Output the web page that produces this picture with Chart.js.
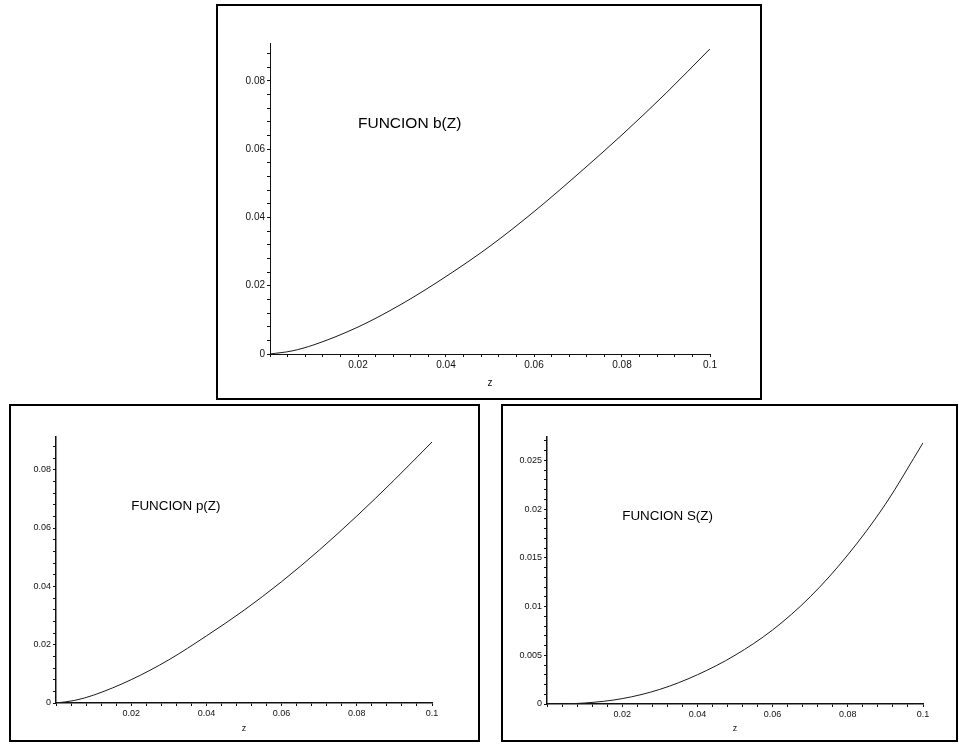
<!DOCTYPE html>
<html>
<head>
<meta charset="utf-8">
<title>FUNCION b(Z), p(Z), S(Z)</title>
<script src="https://cdn.jsdelivr.net/npm/chart.js@4.4.1/dist/chart.umd.min.js"></script>
<style>
  body { margin: 0; background: #fff; width: 959px; height: 744px; position: relative; overflow: hidden; }
  .box { position: absolute; border: 2px solid #000; box-sizing: border-box; background: #fff; }
  .box canvas { display: block; }
</style>
</head>
<body>
<div class="box" style="left:216px;top:4px;width:546px;height:396px;"><canvas id="chartB" width="542" height="392"></canvas></div>
<div class="box" style="left:9px;top:404px;width:471px;height:338px;"><canvas id="chartP" width="467" height="334"></canvas></div>
<div class="box" style="left:501px;top:404px;width:457px;height:338px;"><canvas id="chartS" width="453" height="334"></canvas></div>

<script>
// values (z on the x axis)
var zValues = [0, 0.005, 0.01, 0.02, 0.03, 0.04, 0.05, 0.06, 0.07, 0.08, 0.09, 0.1];
var bValues = [0, 0.0009, 0.0027, 0.0079, 0.0147, 0.0227, 0.0316, 0.0417, 0.0527, 0.0642, 0.0764, 0.0894];
var pValues = [0, 0.0009, 0.0027, 0.0080, 0.0148, 0.0230, 0.0318, 0.0416, 0.0524, 0.0641, 0.0765, 0.0895];
var sValues = [0, 0.00002, 0.0001, 0.00055, 0.0015, 0.0030, 0.0050, 0.0076, 0.0110, 0.0153, 0.0205, 0.0268];

// labelled ticks
var xTickLabels = [0.02, 0.04, 0.06, 0.08, 0.1];
var bpTickLabels = [0, 0.02, 0.04, 0.06, 0.08];
var sTickLabels = [0, 0.005, 0.01, 0.015, 0.02, 0.025];

var FONT = '"Liberation Sans", Arial, Helvetica, sans-serif';

function toPoints(xs, ys) {
  var pts = [];
  for (var i in xs) {
    pts.push({x: xs[i], y: ys[i]});
  }
  return pts;
}

function inList(v, list) {
  for (var i = 0; i < list.length; i++) {
    if (Math.abs(v - list[i]) < 1e-9) return true;
  }
  return false;
}

function fmt(v) {
  return String(parseFloat(v.toFixed(4)));
}

// the "FUNCION x(Z)" text, placed in data coordinates
var funcLabel = {
  id: 'funcLabel',
  afterDraw: function(chart) {
    var o = chart.options.plugins.funcLabel;
    var ctx = chart.ctx;
    ctx.save();
    ctx.font = o.size + 'px ' + FONT;
    ctx.fillStyle = '#000';
    ctx.textBaseline = 'middle';
    ctx.textAlign = 'left';
    ctx.fillText(o.text, chart.scales.x.getPixelForValue(o.x), chart.scales.y.getPixelForValue(o.y));
    ctx.restore();
  }
};

function makeChart(id, values, yMax, yStep, yLabels, s) {
  var ctx = document.getElementById(id);
  return new Chart(ctx, {
    type: 'scatter',
    data: {
      datasets: [{
        data: toPoints(zValues, values),
        showLine: true,
        borderColor: '#1a1a1a',
        borderWidth: 1,
        pointRadius: 0,
        cubicInterpolationMode: 'monotone',
        fill: false
      }]
    },
    plugins: [funcLabel],
    options: {
      responsive: false,
      animation: false,
      events: [],
      layout: { padding: s.padding },
      plugins: {
        legend: { display: false },
        tooltip: { enabled: false },
        funcLabel: s.label
      },
      scales: {
        x: {
          type: 'linear',
          min: 0,
          max: 0.1,
          afterFit: function(scale) { scale.height = s.xHeight; },
          border: { display: true, color: '#111', width: s.axisWidth },
          grid: { display: true, drawOnChartArea: false, drawTicks: true, tickLength: 3, tickColor: '#111' },
          ticks: {
            stepSize: 0.004,
            autoSkip: false,
            maxRotation: 0,
            includeBounds: false,
            padding: 2,
            color: '#111',
            font: { family: FONT, size: s.tickSize },
            callback: function(v) { return inList(v, xTickLabels) ? fmt(v) : ''; }
          },
          title: {
            display: true,
            text: 'z',
            color: '#111',
            font: { family: FONT, size: s.tickSize },
            padding: { top: 0, bottom: s.titlePad }
          }
        },
        y: {
          type: 'linear',
          min: 0,
          max: yMax,
          afterFit: function(scale) { scale.width = s.yWidth; },
          border: { display: true, color: '#111', width: s.axisWidth },
          grid: { display: true, drawOnChartArea: false, drawTicks: true, tickLength: 3, tickColor: '#111' },
          ticks: {
            stepSize: yStep,
            autoSkip: false,
            includeBounds: false,
            padding: 2,
            color: '#111',
            font: { family: FONT, size: s.tickSize },
            callback: function(v) { return inList(v, yLabels) ? fmt(v) : ''; }
          }
        }
      }
    }
  });
}

makeChart('chartB', bValues, 0.0911, 0.004, bpTickLabels, {
  padding: { left: 12, right: 50, top: 37, bottom: 4 },
  yWidth: 40, xHeight: 40, titlePad: 5, tickSize: 10, axisWidth: 1,
  label: { text: 'FUNCION b(Z)', x: 0.02, y: 0.0674, size: 15.5 }
});

makeChart('chartP', pValues, 0.0912, 0.004, bpTickLabels, {
  padding: { left: 9, right: 46, top: 31, bottom: 1 },
  yWidth: 36, xHeight: 36, titlePad: 5.5, tickSize: 9, axisWidth: 1.5,
  label: { text: 'FUNCION p(Z)', x: 0.02, y: 0.0676, size: 13.4 }
});

makeChart('chartS', sValues, 0.0274, 0.001, sTickLabels, {
  padding: { left: 8, right: 33, top: 31, bottom: 0 },
  yWidth: 36, xHeight: 36, titlePad: 6.5, tickSize: 9, axisWidth: 1.5,
  label: { text: 'FUNCION S(Z)', x: 0.02, y: 0.0193, size: 13.4 }
});
</script>
</body>
</html>
